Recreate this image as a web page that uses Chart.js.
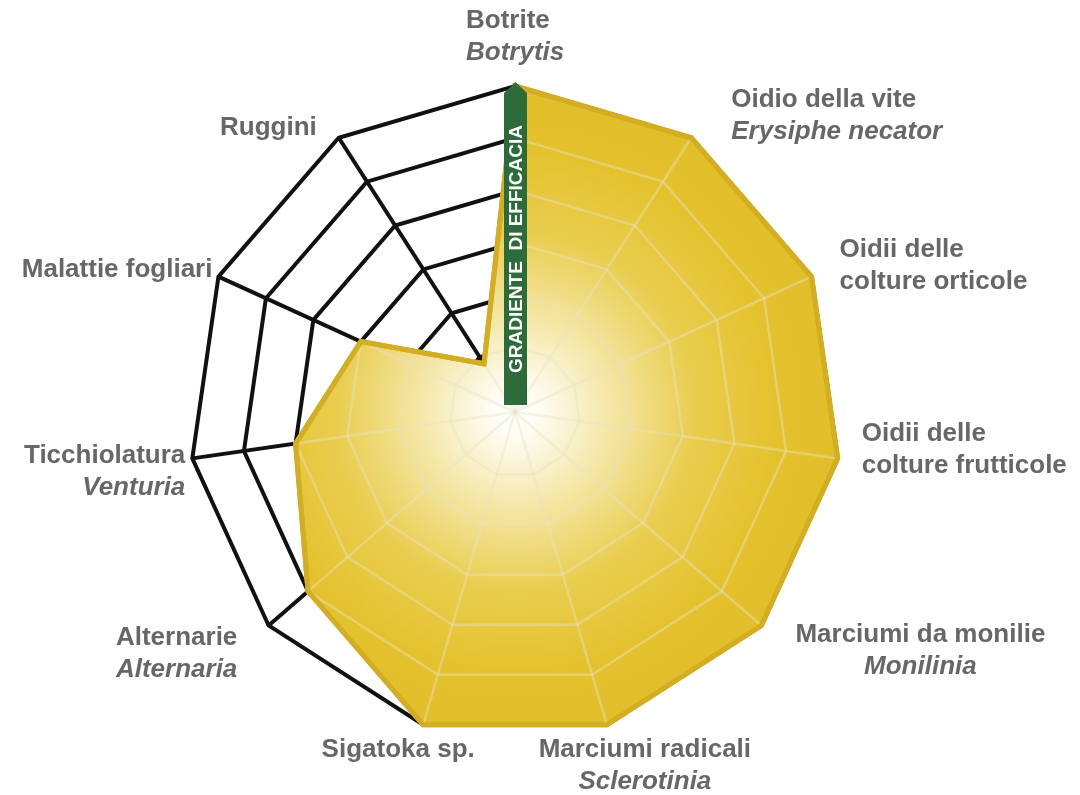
<!DOCTYPE html>
<html>
<head>
<meta charset="utf-8">
<script src="https://cdn.jsdelivr.net/npm/chart.js"></script>
<style>
html, body { margin: 0; padding: 0; background: #fff; }
#wrap { width: 1080px; height: 795px; }
</style>
</head>
<body>
<div id="wrap"><canvas id="radar"></canvas></div>
<script>
// axes, clockwise from the top
const categories = [
    ["Botrite"],
    ["Oidio della vite"],
    ["Oidii delle", "colture orticole"],
    ["Oidii delle", "colture frutticole"],
    ["Marciumi da monilie"],
    ["Marciumi radicali"],
    ["Sigatoka sp."],
    ["Alternarie"],
    ["Ticchiolatura"],
    ["Malattie fogliari"],
    ["Ruggini"]
];
const latinNames = ["Botrytis", "Erysiphe necator", "", "", "Monilinia", "Sclerotinia", "", "Alternaria", "Venturia", "", ""];
const efficacy = [6, 6, 6, 6, 6, 6, 6, 5, 4, 3, 0.85];
const scaleMax = 6;
const gradientText = "GRADIENTE  DI EFFICACIA";

// where each label sits relative to its outer vertex
const labelLayout = [
    { align: "left", dx: -49, dy: -65 },
    { align: "left", dx: 40, dy: -38 },
    { align: "left", dx: 28, dy: -27 },
    { align: "left", dx: 24, dy: -25 },
    { align: "center", dx: 159, dy: 9 },
    { align: "center", dx: 38, dy: 25 },
    { align: "center", dx: -25, dy: 25 },
    { align: "center", dx: -92, dy: 12 },
    { align: "right", dx: -7, dy: -3 },
    { align: "right", dx: -6, dy: -7 },
    { align: "right", dx: -22, dy: -10 }
];

const yellow = "#e3c12b";
const gold = "#d3ad24";

function fillGradient(context) {
    const chart = context.chart;
    const r = chart.scales.r;
    if (!r || r.xCenter === undefined) return yellow;
    const g = chart.ctx.createRadialGradient(r.xCenter, r.yCenter, 0, r.xCenter, r.yCenter, r.drawingArea);
    g.addColorStop(0, "#ffffff");
    g.addColorStop(0.08, "#fefcf2");
    g.addColorStop(0.3, "#f4e6a4");
    g.addColorStop(0.55, "#e9cd4e");
    g.addColorStop(0.8, "#e4c22e");
    g.addColorStop(1, "#e2be29");
    return g;
}

const overlay = {
    id: "overlay",
    afterDatasetsDraw(chart) {
        const ctx = chart.ctx;
        const r = chart.scales.r;
        const pts = chart.getDatasetMeta(0).data;
        const n = chart.data.labels.length;

        // pale grid seen through the filled area
        ctx.save();
        ctx.beginPath();
        pts.forEach((p, i) => i ? ctx.lineTo(p.x, p.y) : ctx.moveTo(p.x, p.y));
        ctx.closePath();
        ctx.clip();
        ctx.strokeStyle = "rgba(232,226,200,0.42)";
        ctx.lineWidth = 2.5;
        r.ticks.forEach(t => {
            if (t.value <= 0) return;
            ctx.beginPath();
            for (let i = 0; i < n; i++) {
                const p = r.getPointPositionForValue(i, t.value);
                i ? ctx.lineTo(p.x, p.y) : ctx.moveTo(p.x, p.y);
            }
            ctx.closePath();
            ctx.stroke();
        });
        for (let i = 0; i < n; i++) {
            const p = r.getPointPositionForValue(i, r.max);
            ctx.beginPath();
            ctx.moveTo(r.xCenter, r.yCenter);
            ctx.lineTo(p.x, p.y);
            ctx.stroke();
        }
        ctx.restore();

        // border again over the pale grid
        ctx.save();
        ctx.beginPath();
        pts.forEach((p, i) => i ? ctx.lineTo(p.x, p.y) : ctx.moveTo(p.x, p.y));
        ctx.closePath();
        ctx.strokeStyle = gold;
        ctx.lineWidth = 5;
        ctx.lineJoin = "miter";
        ctx.stroke();
        ctx.restore();

        // green arrow
        const top = r.getPointPositionForValue(0, r.max);
        const bw = 23;
        const bx = r.xCenter + 0.5 - bw / 2;
        const bottom = r.yCenter - 7;
        ctx.save();
        ctx.fillStyle = "#2d6b3a";
        ctx.beginPath();
        ctx.moveTo(bx, bottom);
        ctx.lineTo(bx, top.y + 7);
        ctx.lineTo(bx + bw / 2, top.y - 4);
        ctx.lineTo(bx + bw, top.y + 7);
        ctx.lineTo(bx + bw, bottom);
        ctx.closePath();
        ctx.fill();
        ctx.translate(bx + bw / 2, (bottom + top.y + 7) / 2);
        ctx.rotate(-Math.PI / 2);
        ctx.fillStyle = "#ffffff";
        ctx.font = "bold 19px 'Liberation Sans', Arial, sans-serif";
        ctx.textAlign = "center";
        ctx.textBaseline = "middle";
        ctx.fillText(gradientText, 0, 1);
        ctx.restore();

        // axis labels
        ctx.save();
        ctx.fillStyle = "#676767";
        ctx.textBaseline = "middle";
        for (let i = 0; i < n; i++) {
            const v = r.getPointPositionForValue(i, r.max);
            const lay = labelLayout[i];
            const x = v.x + lay.dx;
            let y = v.y + lay.dy;
            ctx.textAlign = lay.align;
            ctx.font = "bold 26px 'Liberation Sans', Arial, sans-serif";
            categories[i].forEach(line => {
                ctx.fillText(line, x, y);
                y += 32;
            });
            if (latinNames[i]) {
                ctx.font = "italic bold 26px 'Liberation Sans', Arial, sans-serif";
                ctx.fillText(latinNames[i], x, y);
            }
        }
        ctx.restore();
    }
};

new Chart(document.getElementById("radar"), {
    type: "radar",
    data: {
        labels: categories.map(c => c.join(" ")),
        datasets: [{
            data: efficacy,
            backgroundColor: fillGradient,
            borderColor: gold,
            borderWidth: 5,
            pointRadius: 0,
            fill: "start"
        }]
    },
    options: {
        responsive: true,
        maintainAspectRatio: false,
        animation: false,
        layout: { padding: { top: 86, bottom: 57, left: 150, right: 200 } },
        plugins: { legend: { display: false }, tooltip: { enabled: false } },
        elements: { line: { tension: 0 } },
        scales: {
            r: {
                min: -0.25,
                max: scaleMax,
                ticks: { display: false, stepSize: 1 },
                pointLabels: { display: false },
                grid: {
                    color: ctx => ctx.tick && ctx.tick.value > 0.5 ? "#111111" : "rgba(0,0,0,0)",
                    lineWidth: 4
                },
                angleLines: { color: "#111111", lineWidth: 4 }
            }
        }
    },
    plugins: [overlay]
});
</script>
</body>
</html>
